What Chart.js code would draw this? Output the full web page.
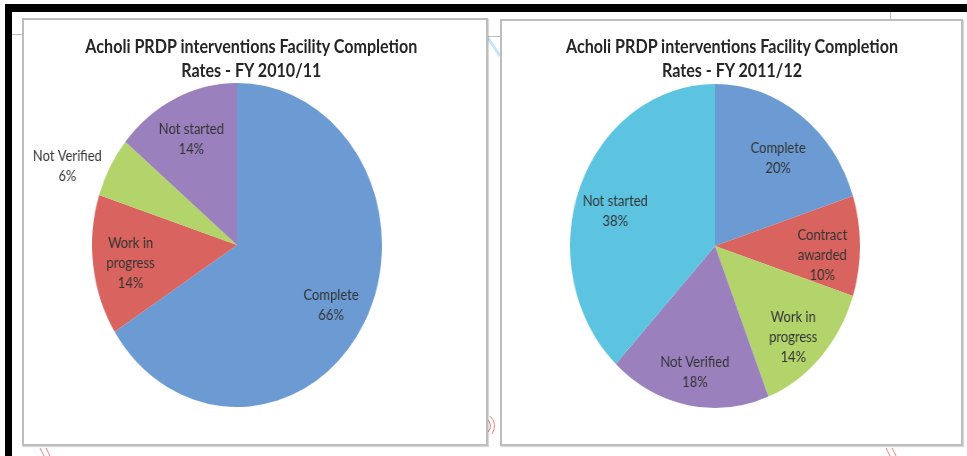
<!DOCTYPE html>
<html>
<head>
<meta charset="utf-8">
<script src="https://cdn.jsdelivr.net/npm/chart.js@4"></script>
<style>
  body { margin: 0; width: 967px; height: 456px; background: #fff; overflow: hidden; position: relative; font-family: Lato, "Open Sans", sans-serif; }
  .bar { position: absolute; background: #000; }
  .panel { position: absolute; box-sizing: border-box; border: 2px solid #bdbdbd; background: #fff; box-shadow: 1px 1px 1px rgba(0,0,0,0.15); }
  .wrap { position: absolute; transform: scaleX(0.895); transform-origin: 0 0; }
  .title { position: absolute; text-align: center; font-weight: bold; font-size: 18px; line-height: 24px; color: #262626; }
  canvas { position: absolute; left: 0; }
</style>
</head>
<body>
<svg width="967" height="456" style="position:absolute;left:0;top:0">
  <line x1="12" y1="34.5" x2="22" y2="34.5" stroke="#bbb" stroke-width="1"/>
  <line x1="488" y1="36.5" x2="500" y2="36.5" stroke="#bbb" stroke-width="1"/>
  <line x1="890.5" y1="12" x2="890.5" y2="19" stroke="#bbb" stroke-width="1"/>
  <line x1="488" y1="38" x2="500" y2="56" stroke="#c6e6f4" stroke-width="3"/>
  <path d="M40 448 L44 456 M46 448 L50 456" stroke="#f08080" stroke-width="1" fill="none"/>
  <path d="M486 418 Q494 425 488 432 M490 416 Q498 424 492 434" stroke="#f08080" stroke-width="1" fill="none"/>
  <path d="M886 448 L890 456 M892 448 L896 456" stroke="#f08080" stroke-width="1" fill="none"/>
</svg>
<div class="bar" style="left:5px;top:4px;width:962px;height:8px"></div>
<div class="bar" style="left:5px;top:4px;width:7px;height:452px"></div>

<div class="panel" style="left:22px;top:18px;width:466px;height:428px"></div>
<div class="panel" style="left:500px;top:19px;width:463px;height:427px"></div>

<div class="wrap" style="left:24px;top:20px;width:516px;height:424px">
  <div class="title" id="title1" style="left:0;top:14px;width:508px"></div>
  <canvas id="pie1" width="516" height="424"></canvas>
</div>
<div class="wrap" style="left:502px;top:21px;width:513px;height:423px">
  <div class="title" id="title2" style="left:0;top:13px;width:514px"></div>
  <canvas id="pie2" width="513" height="423"></canvas>
</div>

<script>
// Chart data
const titleText = 'Acholi PRDP interventions Facility Completion';
const years = ['FY 2010/11', 'FY 2011/12'];

const categories1011 = ['Complete', 'Work in progress', 'Not Verified', 'Not started'];
const values1011 = [66, 14, 6, 14];
const colors1011 = ['#6b9bd2', '#d9635f', '#b3d36b', '#9a80bc'];

const categories1112 = ['Complete', 'Contract awarded', 'Work in progress', 'Not Verified', 'Not started'];
const values1112 = [20, 10, 14, 18, 38];
const colors1112 = ['#6b9bd2', '#d9635f', '#b3d36b', '#9a80bc', '#5cc4e1'];

// Wrap a category name into lines no wider than maxWidth
function wrapText(ctx, text, maxWidth) {
    const words = text.split(' ');
    const lines = [];
    let line = '';
    words.forEach(w => {
        const test = line ? line + ' ' + w : w;
        if (line && ctx.measureText(test).width > maxWidth) {
            lines.push(line);
            line = w;
        } else {
            line = test;
        }
    });
    if (line) lines.push(line);
    return lines;
}

// Draws "name / value%" labels on each slice; small slices get the label outside
const sliceLabels = {
    id: 'sliceLabels',
    afterDatasetsDraw(chart, args, opts) {
        const ctx = chart.ctx;
        const meta = chart.getDatasetMeta(0);
        const data = chart.data.datasets[0].data;
        const total = data.reduce((a, b) => a + b, 0);
        const shiftY = opts.shiftY || 0;
        ctx.save();
        ctx.font = '14.5px Lato, "Open Sans", sans-serif';
        ctx.fillStyle = '#333333';
        ctx.textAlign = 'center';
        ctx.textBaseline = 'middle';
        const lineH = 20;
        meta.data.forEach((arc, i) => {
            const p = arc.getProps(['x', 'y', 'startAngle', 'endAngle', 'outerRadius'], true);
            const mid = (p.startAngle + p.endAngle) / 2;
            const lines = wrapText(ctx, chart.data.labels[i], 80);
            lines.push(data[i] + '%');
            let cx, cy;
            if (data[i] / total < 0.08) {
                const w = Math.max(...lines.map(l => ctx.measureText(l).width));
                const r = p.outerRadius * 1.05;
                cx = p.x + Math.cos(mid) * r + Math.sign(Math.cos(mid)) * (w / 2 + 2);
                cy = p.y + Math.sin(mid) * r + shiftY;
            } else {
                const r = p.outerRadius * 0.74;
                cx = p.x + Math.cos(mid) * r;
                cy = p.y + Math.sin(mid) * r + shiftY;
            }
            const top = cy - (lines.length - 1) * lineH / 2;
            lines.forEach((l, k) => ctx.fillText(l, cx, top + k * lineH));
        });
        ctx.restore();
    }
};

function makePie(canvasId, labels, values, colors, padding, shiftY) {
    const ctx = document.getElementById(canvasId).getContext('2d');
    return new Chart(ctx, {
        type: 'pie',
        data: {
            labels: labels,
            datasets: [{
                data: values,
                backgroundColor: colors,
                borderWidth: 0
            }]
        },
        options: {
            responsive: false,
            animation: false,
            layout: { padding: padding },
            plugins: {
                legend: { display: false },
                title: { display: false },
                tooltip: { enabled: false },
                sliceLabels: { shiftY: shiftY }
            }
        },
        plugins: [sliceLabels]
    });
}

document.getElementById('title1').innerHTML = titleText + '<br>Rates - ' + years[0];
document.getElementById('title2').innerHTML = titleText + '<br>Rates - ' + years[1];

makePie('pie1', categories1011, values1011, colors1011, { top: 63, bottom: 37, left: 0, right: 40 }, 3);
makePie('pie2', categories1112, values1112, colors1112, { top: 63, bottom: 36, left: 0, right: 37 }, 9);
</script>
</body>
</html>
